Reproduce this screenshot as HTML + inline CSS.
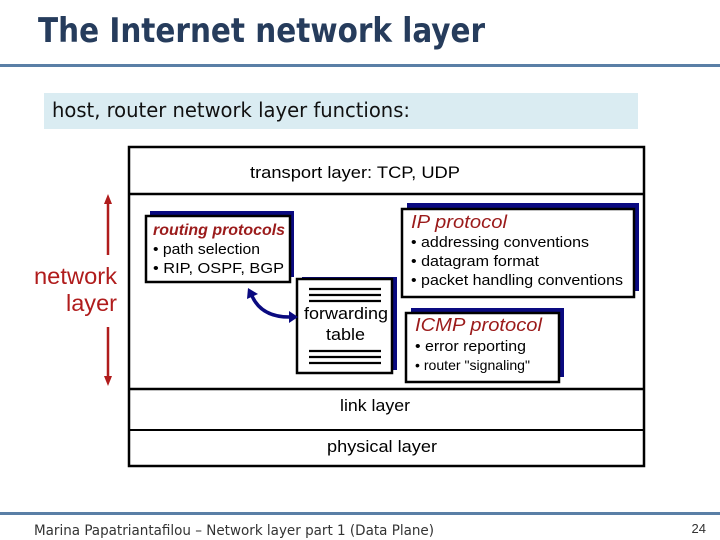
<!DOCTYPE html>
<html><head><meta charset="utf-8"><style>
html,body{margin:0;padding:0;background:#fff;width:720px;height:540px;overflow:hidden}
svg{display:block}
</style></head><body>
<svg width="720" height="540" xmlns="http://www.w3.org/2000/svg" font-family="Liberation Sans, Arial, sans-serif">
<text x="38" y="42" font-size="34" font-weight="bold" fill="#263c5c" font-family="DejaVu Sans Condensed, Liberation Sans Narrow, sans-serif" textLength="447" lengthAdjust="spacingAndGlyphs">The Internet network layer</text>
<rect x="0" y="64" width="720" height="3" fill="#5a7fa6"/>
<rect x="44" y="93" width="594" height="36" fill="#daecf2"/>
<text x="52" y="117" font-size="20" fill="#111" font-family="DejaVu Sans Condensed, sans-serif" textLength="358" lengthAdjust="spacingAndGlyphs">host, router network layer functions:</text>

<rect x="129" y="147" width="515" height="319" fill="#fff" stroke="#000" stroke-width="2.5"/>
<line x1="129" y1="194" x2="644" y2="194" stroke="#000" stroke-width="2.5"/>
<line x1="129" y1="389" x2="644" y2="389" stroke="#000" stroke-width="2.5"/>
<line x1="129" y1="430" x2="644" y2="430" stroke="#000" stroke-width="2"/>
<text x="250" y="178" font-size="17" textLength="210" lengthAdjust="spacingAndGlyphs">transport layer: TCP, UDP</text>
<text x="340" y="411" font-size="17" textLength="70" lengthAdjust="spacingAndGlyphs">link layer</text>
<text x="327" y="452" font-size="17" textLength="110" lengthAdjust="spacingAndGlyphs">physical layer</text>

<g stroke="#b01c1c" stroke-width="2.5" fill="#b01c1c">
<line x1="108" y1="202" x2="108" y2="255"/>
<line x1="108" y1="327" x2="108" y2="378"/>
<polygon points="108,194 104,204 112,204" stroke="none"/>
<polygon points="108,386 104,376 112,376" stroke="none"/>
</g>
<text x="34" y="284" font-size="23" fill="#b01c1c" textLength="83" lengthAdjust="spacingAndGlyphs">network</text>
<text x="66" y="311" font-size="23" fill="#b01c1c" textLength="51" lengthAdjust="spacingAndGlyphs">layer</text>

<rect x="150" y="211" width="144" height="66" fill="#0a0a80"/>
<rect x="146" y="216" width="144" height="66" fill="#fff" stroke="#000" stroke-width="2.5"/>
<text x="153" y="235" font-size="16" font-style="italic" font-weight="bold" fill="#9b1b1b" textLength="132" lengthAdjust="spacingAndGlyphs">routing protocols</text>
<text x="153" y="254" font-size="15" textLength="107" lengthAdjust="spacingAndGlyphs">• path selection</text>
<text x="153" y="273" font-size="15" textLength="131" lengthAdjust="spacingAndGlyphs">• RIP, OSPF, BGP</text>

<rect x="407" y="203" width="232" height="88" fill="#0a0a80"/>
<rect x="402" y="209" width="232" height="88" fill="#fff" stroke="#000" stroke-width="2.5"/>
<text x="411" y="228" font-size="18" font-style="italic" fill="#9b1b1b" textLength="96" lengthAdjust="spacingAndGlyphs">IP protocol</text>
<text x="411" y="247" font-size="15" textLength="178" lengthAdjust="spacingAndGlyphs">• addressing conventions</text>
<text x="411" y="266" font-size="15" textLength="128" lengthAdjust="spacingAndGlyphs">• datagram format</text>
<text x="411" y="285" font-size="15" textLength="212" lengthAdjust="spacingAndGlyphs">• packet handling conventions</text>

<rect x="302" y="277" width="95" height="93" fill="#0a0a80"/>
<rect x="297" y="279" width="95" height="94" fill="#fff" stroke="#000" stroke-width="2.5"/>
<g stroke="#000" stroke-width="2.2">
<line x1="309" y1="289" x2="381" y2="289"/><line x1="309" y1="295" x2="381" y2="295"/><line x1="309" y1="301" x2="381" y2="301"/>
<line x1="309" y1="351" x2="381" y2="351"/><line x1="309" y1="357" x2="381" y2="357"/><line x1="309" y1="363" x2="381" y2="363"/>
</g>
<text x="304" y="319" font-size="17" textLength="84" lengthAdjust="spacingAndGlyphs">forwarding</text>
<text x="326" y="340" font-size="17" textLength="39" lengthAdjust="spacingAndGlyphs">table</text>

<rect x="411" y="308" width="153" height="69" fill="#0a0a80"/>
<rect x="406" y="313" width="153" height="69" fill="#fff" stroke="#000" stroke-width="2.5"/>
<text x="415" y="331" font-size="18" font-style="italic" fill="#9b1b1b" textLength="127" lengthAdjust="spacingAndGlyphs">ICMP protocol</text>
<text x="415" y="351" font-size="15" textLength="111" lengthAdjust="spacingAndGlyphs">• error reporting</text>
<text x="415" y="370" font-size="14" textLength="115" lengthAdjust="spacingAndGlyphs">• router "signaling"</text>

<path d="M252,296 Q262,318 292,317" fill="none" stroke="#0a0a80" stroke-width="3.5"/>
<polygon points="248,288 258,294 247,299" fill="#0a0a80"/>
<polygon points="298,317 289,311 289,323" fill="#0a0a80"/>

<rect x="0" y="512" width="720" height="3" fill="#5a7fa6"/>
<text x="34" y="535" font-size="14" fill="#333" font-family="DejaVu Sans Condensed, Liberation Sans Narrow, sans-serif" textLength="400" lengthAdjust="spacingAndGlyphs">Marina Papatriantafilou –  Network layer part 1 (Data Plane)</text>
<text x="706" y="533" font-size="13" fill="#333" text-anchor="end">24</text>
</svg>
</body></html>
